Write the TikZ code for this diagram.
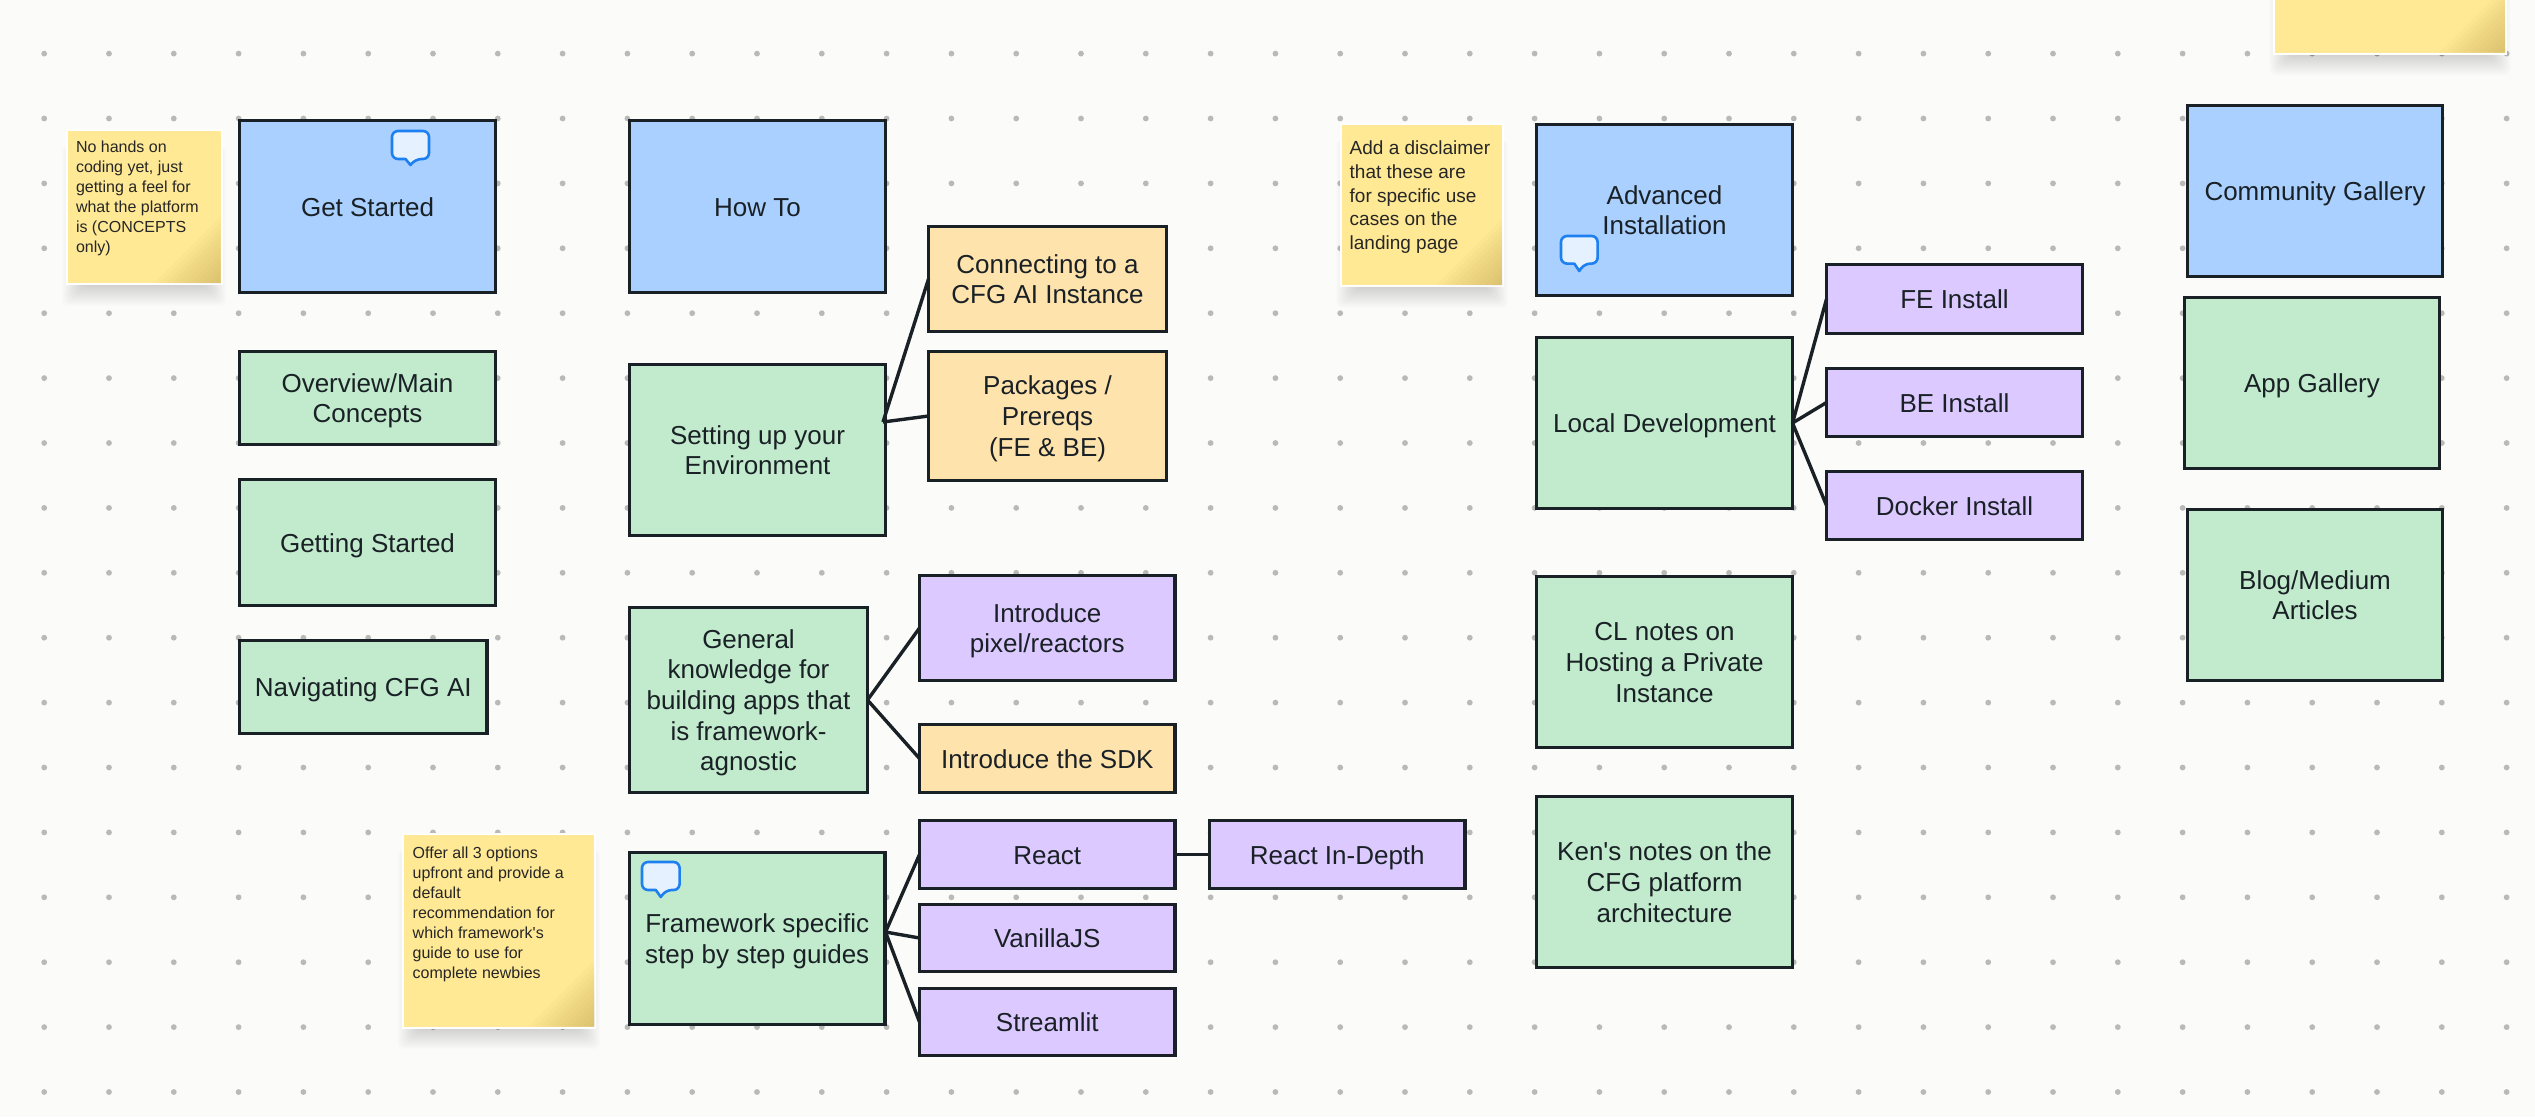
\documentclass[tikz,border=0pt]{standalone}
\usepackage{fontspec}
\setmainfont{Liberation Sans}
\newfontfamily\plainface{Liberation Sans}
\definecolor{bgc}{HTML}{FBFBF9}
\definecolor{dotc}{HTML}{B9B9B7}
\definecolor{linec}{HTML}{1A2126}
\definecolor{bluec}{HTML}{A9D0FF}
\definecolor{greenc}{HTML}{C1EBCC}
\definecolor{purplec}{HTML}{DCC9FF}
\definecolor{orangec}{HTML}{FFE3AD}
\definecolor{stickyc}{HTML}{FFE994}
\definecolor{cornerc}{HTML}{A98A3A}
\definecolor{chatline}{HTML}{1E80F0}
\definecolor{chatfill}{HTML}{E6F1FF}
\tikzset{
  x=1pt,y=-1pt,
  card/.style={draw=linec,line width=3.4pt,align=center,inner sep=0pt,outer sep=0pt,text=linec,
    font=\plainface\fontsize{26}{30.6}\selectfont},
  bluecard/.style={card,fill=bluec},
  greencard/.style={card,fill=greenc},
  purplecard/.style={card,fill=purplec},
  orangecard/.style={card,fill=orangec},
  stickynote/.style={draw=white,line width=2pt,fill=stickyc,inner sep=0pt,outer sep=0pt},
  stickytext/.style={anchor=north west,align=left,inner sep=0pt,text=black!85},
  link/.style={draw=linec,line width=3.4pt},
  griddot/.style={fill=dotc},
  chat/.style={draw=chatline,fill=chatfill,line width=2.6pt,line join=round}
}
% name, x0, y0, x1, y1, style, text
\newcommand\cardbox[7]{\node[#6,minimum width={#4-#2-1},minimum height={#5-#3-1}] (#1) at ({(#2+#4)/2},{(#3+#5)/2}) {\raisebox{-9.6pt}[0pt][0pt]{\begin{tabular}{@{}c@{}}#7\end{tabular}}};}
% name, x0, y0, x1, y1
\newcommand\stickybox[5]{%
  \foreach \i in {0,...,23}{\fill[black,opacity=.0065,rounded corners=6pt] ({#2-5+1*\i},{#3+16}) rectangle ({#4+5-1*\i},{#5+22-1*\i});}
  \node[stickynote,minimum width={#4-#2},minimum height={#5-#3}] (#1) at ({(#2+#4)/2},{(#3+#5)/2}) {};
  \foreach \s in {6,12,...,66}{\fill[cornerc,opacity=.04] ({#4-1},{#5-1}) -- ({#4-1-\s},{#5-1}) -- ({#4-1},{#5-1-\s}) -- cycle;}
}
% name, left, top, right, bottom of bubble, tail tip y
\newcommand\chatbubble[6]{%
  \coordinate (#1) at ({(#2+#4)/2},{(#3+#5)/2});
  \draw[chat,rounded corners=6pt] ({(#2+#4)/2-5},#5) -- ({#2},#5) -- ({#2},#3) -- ({#4},#3) -- ({#4},#5) -- ({(#2+#4)/2+5},#5)
     [sharp corners] -- ({(#2+#4)/2},#6) -- cycle;
}
\begin{document}
\begin{tikzpicture}
\useasboundingbox (0,0) rectangle (2535,1117);
\fill[bgc] (0,0) rectangle (2535,1117);
% dot grid
\foreach \r in {0,...,16}{\foreach \c in {0,...,38}{
  \fill[griddot] ({44.2+64.8*\c},{53.6+64.9*\r}) circle[radius=2.9];
}}
% sticky notes
\stickybox{noteA}{67}{130}{221.6}{284}
\stickybox{noteB}{402.5}{833.5}{595.4}{1027.5}
\stickybox{noteC}{1341}{124}{1503}{286}
\stickybox{noteD}{2274}{-20}{2506}{53.6}
\node[stickytext,font=\plainface\fontsize{16}{20}\selectfont] (noteAtext) at (75.8,141) {No hands on\\coding yet, just\\getting a feel for\\what the platform\\is (CONCEPTS\\only)};
\node[stickytext,font=\plainface\fontsize{16}{20}\selectfont] (noteBtext) at (412.5,847) {Offer all 3 options\\upfront and provide a\\default\\recommendation for\\which framework's\\guide to use for\\complete newbies};
\node[stickytext,font=\plainface\fontsize{19}{23.6}\selectfont] (noteCtext) at (1349.5,141) {Add a disclaimer\\that these are\\for specific use\\cases on the\\landing page};
% column 1
\cardbox{getstarted}{239}{120}{496}{293}{bluecard}{Get Started}
\cardbox{overview}{239}{351}{496}{445}{greencard}{Overview/Main\\Concepts}
\cardbox{gettingstarted}{239}{479}{496}{606}{greencard}{Getting Started}
\cardbox{navigating}{239}{640}{487.5}{734}{greencard}{Navigating CFG AI}
% column 2
\cardbox{howto}{629}{120}{886}{293}{bluecard}{How To}
\cardbox{setting}{629}{364}{886}{536}{greencard}{Setting up your\\Environment}
\cardbox{general}{629}{607}{868}{793}{greencard}{General\\knowledge for\\building apps that\\is framework-\\agnostic}
\cardbox{framework}{629}{852}{885.5}{1025}{greencard}{Framework specific\\step by step guides}
% column 3
\cardbox{connecting}{928}{226}{1167}{332}{orangecard}{Connecting to a\\CFG AI Instance}
\cardbox{packages}{928}{351}{1167}{481}{orangecard}{Packages /\\Prereqs\\(FE \& BE)}
\cardbox{pixel}{919}{575}{1175.5}{681}{purplecard}{Introduce\\pixel/reactors}
\cardbox{sdk}{919}{724}{1175.5}{793}{orangecard}{Introduce the SDK}
\cardbox{react}{919}{820}{1175.5}{889}{purplecard}{React}
\cardbox{vanilla}{919}{904}{1175.5}{972}{purplecard}{VanillaJS}
\cardbox{streamlit}{919}{988}{1175.5}{1056}{purplecard}{Streamlit}
\cardbox{reactdepth}{1209}{820}{1465.5}{889}{purplecard}{React In-Depth}
% column 4
\cardbox{advanced}{1536}{124}{1793}{296}{bluecard}{Advanced\\Installation}
\cardbox{localdev}{1536}{337}{1793}{509}{greencard}{Local Development}
\cardbox{clnotes}{1536}{576}{1793}{748}{greencard}{CL notes on\\Hosting a Private\\Instance}
\cardbox{kennotes}{1536}{796}{1793}{968}{greencard}{Ken's notes on the\\CFG platform\\architecture}
% column 5
\cardbox{feinstall}{1826}{264}{2083}{334}{purplecard}{FE Install}
\cardbox{beinstall}{1826}{368}{2083}{437}{purplecard}{BE Install}
\cardbox{dockerinstall}{1826}{471}{2083}{540}{purplecard}{Docker Install}
% column 6
\cardbox{community}{2187}{105}{2443}{277}{bluecard}{Community Gallery}
\cardbox{appgallery}{2184}{297}{2440}{469}{greencard}{App Gallery}
\cardbox{blog}{2187}{509}{2443}{681}{greencard}{Blog/Medium\\Articles}
% connectors
\coordinate (settingout) at (883,422);
\coordinate (frameworkout) at (885.5,932);
\draw[link] (settingout) -- (connecting.west);
\draw[link] (settingout) -- (packages.west);
\draw[link] (general.east) -- (pixel.west);
\draw[link] (general.east) -- (sdk.west);
\draw[link] (frameworkout) -- (react.west);
\draw[link] (frameworkout) -- (vanilla.west);
\draw[link] (frameworkout) -- (streamlit.west);
\draw[link] (react.east) -- (reactdepth.west);
\draw[link] (localdev.east) -- (feinstall.west);
\draw[link] (localdev.east) -- (beinstall.west);
\draw[link] (localdev.east) -- (dockerinstall.west);
% comment bubbles
\chatbubble{chatA}{392}{131}{429}{159}{165}
\chatbubble{chatB}{642}{862}{679.6}{890}{897}
\chatbubble{chatC}{1561}{236}{1597.6}{263.6}{271}
\end{tikzpicture}
\end{document}
